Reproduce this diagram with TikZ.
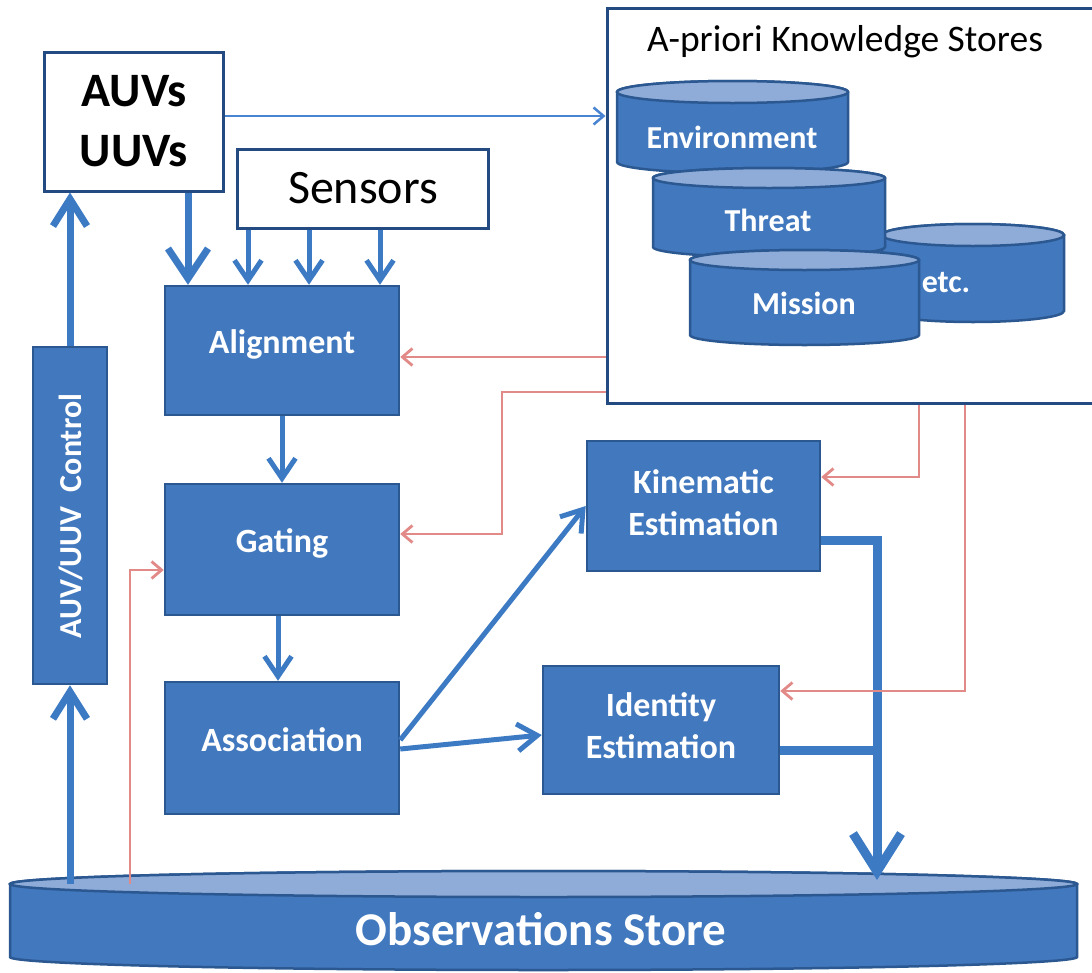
\documentclass[tikz,border=0pt]{standalone}
\usepackage{fontspec}
\setmainfont{Carlito}
\usetikzlibrary{arrows.meta,calc}
\definecolor{boxfill}{RGB}{65,120,190}
\definecolor{boxedge}{RGB}{44,88,145}
\definecolor{arrowblue}{RGB}{60,122,196}
\definecolor{thinblue}{RGB}{72,132,210}
\definecolor{cyltopc}{RGB}{142,172,215}
\definecolor{redarrow}{RGB}{226,138,136}
\definecolor{darkedge}{RGB}{35,75,130}
\newcommand{\drawcyl}[5]{%
  \pgfmathsetmacro{\cylrx}{(#2-#1)/2}%
  \pgfmathsetmacro{\cylcx}{(#2+#1)/2}%
  \filldraw[cylstyle] (#1,#3) -- (#1,#4) arc[start angle=180,end angle=360,x radius=\cylrx pt,y radius=#5pt] -- (#2,#3) arc[start angle=0,end angle=180,x radius=\cylrx pt,y radius=#5pt] -- cycle;
  \filldraw[cylstyle, fill=cyltopc] (\cylcx,#3) ellipse[x radius=\cylrx pt, y radius=#5pt];
}
\begin{document}
\begin{tikzpicture}[x=1pt,y=-1pt,
  bluebox/.style={draw=boxedge, fill=boxfill, line width=2.5pt, text=white, font=\bfseries\fontsize{34}{42}\selectfont, align=center, inner sep=0pt},
  oneline/.style={text height=24pt, text depth=18pt},
  whitebox/.style={draw=darkedge, fill=white, line width=3pt, text=black, align=center, inner sep=0pt},
  cylstyle/.style={draw=boxedge, fill=boxfill, line width=2.5pt},
  cyltext/.style={text=white, font=\bfseries\fontsize{32}{38}\selectfont, inner sep=0pt},
  bluesev/.style={draw=arrowblue, line width=7pt},
  bluefive/.style={draw=arrowblue, line width=5pt},
  bluenine/.style={draw=arrowblue, line width=9pt},
  bluethin/.style={draw=thinblue, line width=2.5pt},
  redline/.style={draw=redarrow, line width=2.8pt},
  bigtip/.style={-{Straight Barb[length=30pt,width=40pt]}},
  ctrltip/.style={-{Straight Barb[length=27pt,width=34pt]}},
  medtip/.style={-{Straight Barb[length=20pt,width=27pt]}},
  hugetip/.style={-{Straight Barb[length=38pt,width=48pt]}},
  smalltip/.style={-{Straight Barb[length=10pt,width=17pt]}},
]
\fill[white] (0,0) rectangle (1092,972);
\useasboundingbox (0,0) rectangle (1092,972);

% A-priori knowledge stores
\node[whitebox, minimum width=493pt, minimum height=395pt] (apri) at (853.5,205.5) {};
\node[text=black, font=\fontsize{37.5}{44}\selectfont, inner sep=0pt] (aprititle) at (845,42) {A-priori Knowledge Stores};
\drawcyl{617}{848}{92}{162}{11}
\drawcyl{882}{1064}{235}{311}{11}
\drawcyl{653}{885}{178}{247}{10}
\drawcyl{690}{919}{260}{335}{10}
\node[cyltext] (env) at (732,137) {Environment};
\node[cyltext] (threat) at (768,220) {Threat};
\node[cyltext] (etc) at (946,283) {etc.};
\node[cyltext] (mission) at (804,303) {Mission};

% Observations store
\drawcyl{10}{1077}{884}{957}{13}
\node[text=white, font=\bfseries\fontsize{47}{54}\selectfont, inner sep=0pt] (obs) at (541,929) {Observations Store};
\coordinate (obsA) at (70,884);
\coordinate (obsB) at (130,884);
\coordinate (obsC) at (877,880);

% boxes
\node[whitebox, minimum width=179pt, minimum height=139pt, font=\bfseries\fontsize{48}{60}\selectfont] (auv) at (134,121.5) {AUVs\\UUVs};
\node[whitebox, minimum width=251pt, minimum height=79pt, font=\fontsize{48}{56}\selectfont] (sens) at (363,188.5) {Sensors};
\node[bluebox, oneline, minimum width=234pt, minimum height=129pt] (align) at (282,350.5) {Alignment};
\node[bluebox, oneline, minimum width=234pt, minimum height=131pt] (gating) at (282,549.5) {Gating};
\node[bluebox, oneline, minimum width=234pt, minimum height=132pt] (assoc) at (282,748) {Association};
\node[bluebox, minimum width=233pt, minimum height=130pt] (kin) at (703.5,506) {Kinematic\\Estimation\rule[-6pt]{0pt}{1pt}};
\node[bluebox, minimum width=236pt, minimum height=128pt] (ident) at (661,730) {Identity\\Estimation\rule[-9pt]{0pt}{1pt}};
\node[bluebox, minimum width=74pt, minimum height=337pt] (ctrl) at (70,515.5) {};
\node[text=white, font=\bfseries\fontsize{32}{38}\selectfont, rotate=90, inner sep=0pt] (ctrltext) at (71,516) {AUV/UUV\ \ Control};

% blue connectors
\draw[bluesev, ctrltip] (obsA) -- (ctrl.south);
\draw[bluesev, ctrltip] (ctrl.north) -- (auv.south -| ctrl.north);
\coordinate (xa) at (188,0);
\draw[bluesev, bigtip] (auv.south -| xa) -- (align.north -| xa);
\foreach \xx/\nm in {248/sa,309/sb,380/sc} {
  \coordinate (\nm) at (\xx,0);
  \draw[bluefive, medtip] (sens.south -| \nm) -- (align.north -| \nm);
}
\coordinate (auvout) at ([yshift=5.5pt]auv.east);
\draw[bluethin, smalltip] (auvout) -- (auvout -| apri.west);
\draw[bluefive, medtip] (align.south) -- (gating.north);
\draw[bluefive, medtip] ([xshift=-4pt]gating.south) -- ([xshift=-4pt]assoc.north);
\draw[bluefive, medtip] ([yshift=8pt]assoc.east) -- (kin.west);
\draw[bluefive, medtip] ([yshift=-1pt]assoc.east) -- ([yshift=-5pt]ident.west);
\coordinate (k1) at ([yshift=-34pt]kin.east);
\draw[bluenine, hugetip] (k1) -| (obsC);
\coordinate (i1) at ([yshift=-20pt]ident.east);
\draw[bluenine] (i1) -- (i1 -| obsC);

% red connectors
\coordinate (r1) at ([yshift=-6.5pt]align.east);
\draw[redline, smalltip] (r1 -| apri.west) -- (r1);
\coordinate (r2) at ([yshift=15.5pt]gating.east);
\coordinate (r2a) at (502,392);
\draw[redline, smalltip] (r2a -| apri.west) -- (r2a) |- (r2);
\coordinate (r3) at ([yshift=-20.5pt]gating.west);
\draw[redline, smalltip] (obsB) |- (r3);
\coordinate (r4) at ([yshift=29pt]kin.east);
\coordinate (r4a) at (919,0);
\draw[redline, smalltip] (apri.south -| r4a) |- (r4);
\coordinate (r5) at ([yshift=39pt]ident.east);
\coordinate (r5a) at (965,0);
\draw[redline, smalltip] (apri.south -| r5a) |- (r5);
\end{tikzpicture}
\end{document}
